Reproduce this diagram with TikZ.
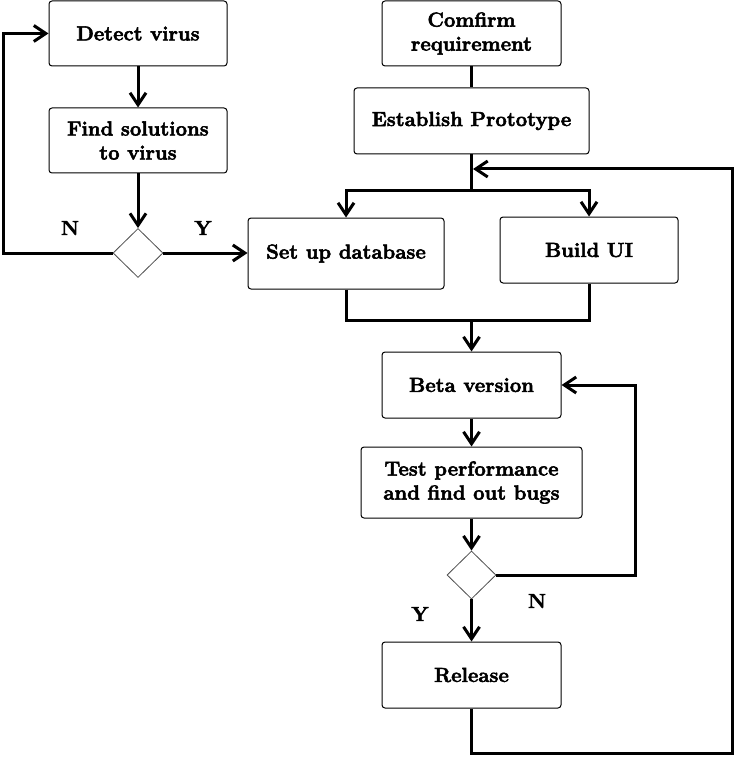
\documentclass[tikz,border=0pt]{standalone}
\usepackage{fontspec}
\setmainfont{Latin Modern Roman}[BoldFeatures={FakeBold=2.6}]
\usetikzlibrary{arrows.meta,shapes.geometric}
\begin{document}
\begin{tikzpicture}[x=1pt,y=-1pt,
  box/.style={draw,line width=1pt,rounded corners=3pt,align=center,inner sep=0pt,
    font=\fontsize{20.3}{24}\selectfont\bfseries},
  dec/.style={draw=black!70,line width=0.8pt,shape=diamond,inner sep=0pt},
  conn/.style={line width=3pt},
  arr/.style={conn,-{Straight Barb[length=12pt,width=16pt]}},
  lbl/.style={font=\fontsize{20.3}{24}\selectfont\bfseries,inner sep=0pt}]
\useasboundingbox (0,0) rectangle (736,759);
% left column
\node[box,minimum width=178pt,minimum height=65pt] (detect) at (138,33.5) {Detect virus};
\node[box,minimum width=178pt,minimum height=65pt] (find) at (138,140.5) {Find solutions\\to virus};
\node[dec,minimum width=50pt,minimum height=49pt] (d1) at (138,253) {};
% right column
\node[box,minimum width=179pt,minimum height=65pt] (confirm) at (471.5,33.5) {Comfirm\\requirement};
\node[box,minimum width=235pt,minimum height=66pt] (proto) at (471.5,121) {Establish Prototype};
\node[box,minimum width=196pt,minimum height=71pt] (db) at (346,253.5) {Set up database};
\node[box,minimum width=178pt,minimum height=66pt] (ui) at (589,250) {Build UI};
\node[box,minimum width=179pt,minimum height=66pt] (beta) at (471.5,385) {Beta version};
\node[box,minimum width=221pt,minimum height=71pt] (test) at (471.5,482.5) {Test performance\\and find out bugs};
\node[dec,minimum width=49pt,minimum height=48pt] (d2) at (471.5,575) {};
\node[box,minimum width=179pt,minimum height=66pt] (release) at (471.5,675) {Release};
% labels
\node[lbl] (n1) at (70,228) {N};
\node[lbl] (y1) at (203,228) {Y};
\node[lbl] (n2) at (537,601) {N};
\node[lbl] (y2) at (420,614) {Y};
% coordinates
\coordinate (nl) at (3,253);
\coordinate (split) at (471.5,191);
\coordinate (merge) at (471.5,320);
\coordinate (nr) at (635,575);
\coordinate (bl) at (471.5,753);
\coordinate (br) at (732,753);
\coordinate (ret) at (471.5,169);
% connectors
\draw[arr] (detect) -- (find);
\draw[arr] (find) -- (d1.north);
\draw[arr] (d1.west) -- (nl) |- (detect.west);
\draw[arr] (d1.east) -- (d1.east -| db.west);
\draw[conn] (confirm) -- (proto);
\draw[conn] (proto.south) -- (split);
\draw[arr] (split) -| (db.north);
\draw[arr] (split) -| (ui.north);
\draw[conn] (db.south) |- (merge);
\draw[conn] (ui.south) |- (merge);
\draw[arr] (merge) -- (beta.north);
\draw[arr] (beta) -- (test);
\draw[arr] (test) -- (d2.north);
\draw[arr] (d2.south) -- (release.north);
\draw[arr] (d2.east) -- (nr) |- (beta.east);
\draw[arr] (release.south) -- (bl) -- (br) |- ([xshift=1.5pt]ret);
\end{tikzpicture}
\end{document}
